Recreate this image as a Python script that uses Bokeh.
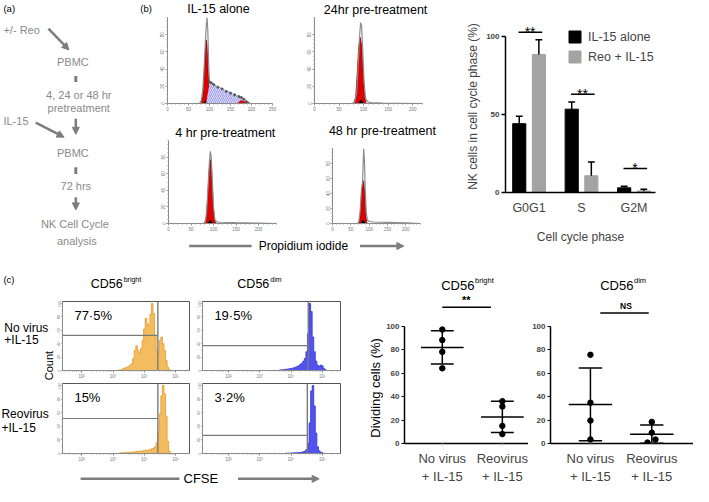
import math
import numpy as np
from bokeh.plotting import figure
from bokeh.layouts import row, column
from bokeh.models import Range1d, Arrow, NormalHead, FixedTicker, Legend, LegendItem
from bokeh.core.properties import value
from bokeh.embed import file_html
from bokeh.resources import INLINE

FONT = "Liberation Sans"
TXT_GRAY = "#8a8a8a"
ARR_GRAY = "#7d7d7d"

# ---------------- data ----------------
phases = ["G0G1", "S", "G2M"]
il15_alone = [44.0, 53.3, 3.0]
il15_alone_err = [4.8, 4.5, 1.0]
reo_il15 = [88.3, 10.7, 1.0]
reo_il15_err = [9.4, 8.8, 1.0]
sig_marks = ["**", "**", "*"]
sig_levels = [102.5, 62.8, 15.4]

pi_titles = ["IL-15 alone", "24hr pre-treatment", "4 hr pre-treatment", "48 hr pre-treatment"]
pi1_x = [0, 76, 80, 84, 87, 90, 92, 94, 96, 98, 100, 104, 110, 120, 130, 140, 150, 160, 170, 176, 182, 188, 192, 196, 250]
pi1_total = [0, 0, 3, 15, 40, 70, 88, 100, 85, 45, 25, 24, 22, 19, 17, 14, 12, 10, 8, 7, 5, 2, 0.5, 0, 0]
pi1_g1_x = [80, 84, 87, 90, 92, 94, 97, 100, 103]
pi1_g1 = [0, 8, 30, 60, 74, 68, 35, 8, 0]
pi1_s_x = [92, 100, 120, 140, 160, 175, 185, 192]
pi1_s = [0, 23, 19.5, 15.5, 11.5, 6.6, 3, 0]
pi1_g2_x = [166, 170, 174, 178, 182, 186, 190]
pi1_g2 = [0, 2, 3.5, 3.6, 3, 1.5, 0]

pi2_x = [0, 78, 82, 86, 89, 92, 94, 96, 98, 101, 104, 108, 115, 140, 180, 220]
pi2_total = [0, 0, 2, 12, 45, 80, 94, 90, 65, 25, 6, 2, 1, 0.5, 0.3, 0]
pi2_g1_x = [80, 84, 87, 90, 93, 96, 99, 102, 105]
pi2_g1 = [0, 8, 35, 65, 77, 68, 35, 8, 0]

pi3_x = [0, 78, 82, 85, 88, 91, 93, 95, 97, 100, 103, 107, 115, 150, 200, 240]
pi3_total = [0, 0, 2, 15, 45, 75, 87, 80, 55, 20, 5, 2, 1.5, 1, 0.5, 0]
pi3_g1_x = [80, 84, 87, 90, 93, 96, 99, 102, 105]
pi3_g1 = [0, 8, 30, 62, 77, 62, 25, 5, 0]

pi4_x = [0, 68, 72, 76, 79, 82, 85, 87, 89, 92, 95, 99, 110, 150, 200, 240]
pi4_total = [0, 0, 3, 20, 45, 55, 100, 85, 50, 15, 5, 3, 2, 1.5, 1, 0]
pi4_g1_x = [72, 76, 79, 82, 85, 88, 91, 94]
pi4_g1 = [0, 12, 38, 55, 57, 40, 10, 0]

cfse_bins_bright = np.round(np.arange(3.20, 4.851, 0.05), 2)
cfse_novirus_bright = [1, 1, 2, 3, 4, 5, 6, 8, 10, 18, 30, 37, 30, 26, 33, 45, 62, 78, 70, 66,
                       84, 100, 85, 52, 30, 26, 45, 50, 40, 30, 15, 5, 1, 0]
cfse_reo_bright = [0.5, 1, 1, 1, 1.5, 1, 2, 1.5, 2, 2.5, 2, 3, 3, 3.5, 3, 4, 4, 5, 4.5, 5,
                   6, 7, 8, 10, 16, 32, 58, 85, 100, 88, 55, 18, 3, 0]
cfse_bins_dim_nv = np.round(np.arange(3.60, 5.151, 0.05), 2)
cfse_novirus_dim = [0.5, 0.5, 1, 1, 1.5, 2, 2, 2.5, 3, 3.5, 4, 5, 6, 7, 9, 11, 14, 18, 28, 55,
                    100, 88, 50, 28, 14, 8, 6, 8, 7, 3, 1, 0]
cfse_bins_dim_reo = np.round(np.arange(3.80, 5.051, 0.05), 2)
cfse_reo_dim = [0.3, 0.3, 0.5, 0.5, 0.5, 0.8, 1, 1, 1.2, 1.5, 1.5, 2, 2.5, 3.5, 6, 15, 45, 92, 100, 70,
                30, 10, 4, 2, 1, 0]
cfse_gates = [4.43, 4.55, 4.43, 4.52]
cfse_marker_level = [0.51, 0.36, 0.50, 0.26]
cfse_pct = ["77·5%", "19·5%", "15%", "3·2%"]

dot_groups = ["No virus\n+ IL-15", "Reovirus\n+ IL-15"]
bright_novirus = [97, 88, 78, 64]
bright_reo = [36, 31.5, 15, 8]
dim_novirus = [75.5, 34.7, 19.5, 3.4]
dim_reo = [18.4, 9.2, 0.8, 3.4]
dim_reo_jitter = [0, 0, -0.07, 0.06]


def unalign(p):
    if "frame_align" in p.properties():
        p.frame_align = False
    return p


def base(w, h, xr, yr, **kw):
    p = figure(width=w, height=h, title=None, x_range=Range1d(*xr), y_range=Range1d(*yr),
               output_backend="svg", toolbar_location=None, **kw)
    for g in p.grid:
        g.visible = False
    p.outline_line_color = None
    return unalign(p)


def bare(w, h, xr, yr):
    return base(w, h, xr, yr, x_axis_location=None, y_axis_location=None, min_border=0)


def txt(p, x, y, t, size, color="black", align="center", baseline="middle", style="normal", angle=0.0):
    p.text(x=[x], y=[y], text=[t], text_font=value(FONT), text_font_size=size, text_color=color,
           text_align=align, text_baseline=baseline, text_font_style=style, angle=angle)


def arrow(p, x0, y0, x1, y1, w=2.5):
    p.add_layout(Arrow(end=NormalHead(size=7, fill_color=ARR_GRAY, line_color=ARR_GRAY),
                       x_start=x0, y_start=y0, x_end=x1, y_end=y1,
                       line_color=ARR_GRAY, line_width=w))


def small_axes(p, xt, xminor, yt, yminor, labels=None):
    xa, ya = p.xaxis[0], p.yaxis[0]
    for ax in (xa, ya):
        ax.axis_line_color = "#8a8a8a"
        ax.major_tick_line_color = "#8a8a8a"
        ax.minor_tick_line_color = "#a0a0a0"
        ax.major_tick_in = 0
        ax.major_tick_out = 2
        ax.minor_tick_in = 0
        ax.minor_tick_out = 1
        ax.major_label_text_font_size = "4.5px"
        ax.major_label_text_color = "#777777"
        ax.major_label_standoff = 1
    xa.ticker = FixedTicker(ticks=xt, minor_ticks=xminor)
    ya.ticker = FixedTicker(ticks=yt, minor_ticks=yminor)
    ya.major_label_orientation = "vertical"
    if labels:
        xa.major_label_overrides = labels


# ---------------- (a) flow diagram (+ "(b)" tag) ----------------
pa = bare(156, 254, (0, 159.5), (262, 0))
txt(pa, 3, 8, "(a)", "9.5px", align="left")
txt(pa, 143, 8, "(b)", "9.5px", align="left")
txt(pa, 3, 30, "+/- Reo", "11px", TXT_GRAY, align="left")
txt(pa, 74, 63, "PBMC", "11px", TXT_GRAY)
txt(pa, 80, 97, "4, 24 or 48 hr", "11px", TXT_GRAY)
txt(pa, 80, 111, "pretreatment", "11px", TXT_GRAY)
txt(pa, 3, 124, "IL-15", "11px", TXT_GRAY, align="left")
txt(pa, 74, 157, "PBMC", "11px", TXT_GRAY)
txt(pa, 77, 191, "72 hrs", "11px", TXT_GRAY)
txt(pa, 76, 231, "NK Cell Cycle", "11px", TXT_GRAY)
txt(pa, 78, 248, "analysis", "11px", TXT_GRAY)
arrow(pa, 49, 29, 70, 51)
arrow(pa, 77, 122, 77, 138)
arrow(pa, 36, 126, 65, 141)
arrow(pa, 77, 203, 77, 216)
pa.segment(x0=[77, 77], y0=[78, 172], x1=[77, 77], y1=[84, 179], line_color=ARR_GRAY, line_width=3)


# ---------------- (b) PI histograms ----------------
def pi_fig(w, h, lb, rb, tb, bb, xmax, xs, total, g1x, g1, peak_x):
    p = base(w, h, (0, xmax), (0, 100),
             min_border_left=lb, min_border_right=rb, min_border_top=tb, min_border_bottom=bb)
    xt = [t for t in [0, 50, 100, 150, 200, 250] if t <= xmax]
    small_axes(p, xt, list(range(0, xmax + 1, 10)), [0, 20, 40, 60, 80], list(range(0, 101, 5)))
    p.varea(x=g1x, y1=0, y2=g1, fill_color="#e00000")
    p.line(g1x, g1, line_color="#8a0000", line_width=0.8)
    p.line(xs, total, line_color="#8c8c8c", line_width=1.2)
    p.scatter([peak_x], [1.5], marker="triangle", size=4, color="black")
    return p


# title strips (pixel coordinates inside strip, x in reference coordinates)
t1 = bare(303, 17, (159.5, 470), (17, 0))
txt(t1, 223, 8.5, pi_titles[0], "12.5px")
txt(t1, 384, 9, pi_titles[1], "12.5px")
t2 = bare(303, 22, (159.5, 470), (22, 0))
txt(t2, 230, 14, pi_titles[2], "12.5px")
txt(t2, 391, 12.5, pi_titles[3], "12.5px")

h1 = pi_fig(137, 101, 11, 21, 0, 15, 250, pi1_x, pi1_total, pi1_g1_x, pi1_g1, 93)
h1.varea(x=pi1_s_x, y1=0, y2=pi1_s, fill_color="#d6d6f6", hatch_pattern="/",
         hatch_color="#6b6be0", hatch_scale=4, hatch_weight=0.5)
h1.varea(x=pi1_g2_x, y1=0, y2=pi1_g2, fill_color="#e00000")
h1.scatter(pi1_x[10:23], pi1_total[10:23], size=2, color="#555555")
h2 = pi_fig(166, 101, 21, 37, 0, 15, 220, pi2_x, pi2_total, pi2_g1_x, pi2_g1, 95)
h3 = pi_fig(137, 97, 12, 17, 0, 14, 240, pi3_x, pi3_total, pi3_g1_x, pi3_g1, 93)
h4 = pi_fig(166, 97, 39, 39, 8, 14, 240, pi4_x, pi4_total, pi4_g1_x, pi4_g1, 84)

fb = bare(303, 17, (159.5, 470), (0, 1))
txt(fb, 310, 0.5, "Propidium iodide", "12px")
fb.segment(x0=[193], y0=[0.5], x1=[257], y1=[0.5], line_color=ARR_GRAY, line_width=2.5)
arrow(fb, 368, 0.5, 413, 0.5)

# ---------------- (b) bar chart ----------------
xs3 = np.arange(len(phases))
pb = base(234, 254, (-0.449, 2.41), (0, 110),
          min_border_left=46, min_border_right=38, min_border_top=20, min_border_bottom=62)
off = 0.187
r1 = pb.vbar(x=xs3 - off, top=il15_alone, width=0.25, fill_color="black", line_color="black")
r2 = pb.vbar(x=xs3 + off, top=reo_il15, width=0.25, fill_color="#a3a3a3", line_color="#a3a3a3")
for o, m, e in ((-off, il15_alone, il15_alone_err), (off, reo_il15, reo_il15_err)):
    m = np.array(m)
    e = np.array(e)
    pb.segment(x0=xs3 + o, y0=m, x1=xs3 + o, y1=m + e, line_color="black", line_width=1.5)
    pb.segment(x0=xs3 + o - 0.065, y0=m + e, x1=xs3 + o + 0.065, y1=m + e, line_color="black", line_width=1.5)
pb.segment(x0=xs3 - 0.2, y0=sig_levels, x1=xs3 + 0.25, y1=sig_levels, line_color="black", line_width=1.5)
pb.text(x=xs3 + 0.02, y=np.array(sig_levels) + 0.3, text=sig_marks, text_font=value(FONT),
        text_font_size="14px", text_align="center", text_baseline="alphabetic")
ya = pb.yaxis[0]
ya.ticker = FixedTicker(ticks=[0, 50, 100], minor_ticks=[])
ya.bounds = (0, 100)
xa = pb.xaxis[0]
xa.ticker = FixedTicker(ticks=list(xs3), minor_ticks=[])
xa.major_label_overrides = {int(i): ph for i, ph in zip(xs3, phases)}
for ax in (xa, ya):
    ax.axis_line_color = "black"
    ax.axis_line_width = 1.5
    ax.major_tick_line_width = 1.5
    ax.major_tick_in = 0
    ax.axis_label_text_font = FONT
    ax.axis_label_text_font_style = "normal"
    ax.axis_label_text_font_size = "12px"
    ax.major_label_text_font = FONT
ya.major_tick_out = 4
ya.major_label_text_font_size = "8px"
ya.major_label_text_font_style = "bold"
ya.major_label_standoff = 2
ya.axis_label = "NK cells in cell cycle phase (%)"
ya.axis_label_standoff = 3
xa.major_tick_out = 0
xa.major_label_text_font_size = "12.5px"
xa.major_label_standoff = 8
xa.axis_label = "Cell cycle phase"
xa.axis_label_standoff = 12
legend = Legend(items=[LegendItem(label="IL-15 alone", renderers=[r1]),
                       LegendItem(label="Reo + IL-15", renderers=[r2])],
                location=(62, 128), glyph_width=15, glyph_height=15, label_height=15,
                spacing=5, padding=0, margin=0, border_line_color=None, background_fill_alpha=0,
                label_text_font=FONT, label_text_font_size="12.5px", label_standoff=6)
pb.add_layout(legend)

# ---------------- (c) CFSE histograms ----------------
hc = bare(347, 46, (0, 355), (310, 262))
txt(hc, 3, 288, "(c)", "9.5px", align="left")
txt(hc, 125, 293, "CD56", "12.5px", align="right")
txt(hc, 126, 288, "bright", "7px", align="left")
txt(hc, 275, 293, "CD56", "12.5px", align="right")
txt(hc, 276, 288, "dim", "7px", align="left")

lc = bare(54, 165, (0, 57), (480, 310))
txt(lc, 4, 338, "No virus", "12px", align="left")
txt(lc, 4, 351, "+IL-15", "12px", align="left")
txt(lc, 1, 427, "Reovirus", "12px", align="left")
txt(lc, 1, 441, "+IL-15", "12px", align="left")
txt(lc, 51, 377, "Count", "11px", angle=math.pi / 2)

LOG_MINOR = [math.log10(k * 10 ** d) for d in range(1, 6) for k in range(2, 10)]


def flow_fig(w, h, lb, rb, tb, bb, xr, bins, counts, fill, edge, gate, level, pct):
    p = base(w, h, xr, (0, 103),
             min_border_left=lb, min_border_right=rb, min_border_top=tb, min_border_bottom=bb)
    p.outline_line_color = "#555555"
    small_axes(p, [2, 3, 4, 5], [m for m in LOG_MINOR if xr[0] < m < xr[1]],
               [0, 20, 40, 60, 80, 100], list(range(0, 101, 10)),
               labels={2: "10²", 3: "10³", 4: "10⁴", 5: "10⁵"})
    p.yaxis[0].major_label_text_font_size = "4px"
    p.yaxis[0].major_tick_out = 1
    b = np.asarray(bins)
    p.varea_step(x=b, y1=0, y2=counts, step_mode="center", fill_color=fill)
    p.step(b, counts, mode="center", line_color=edge, line_width=0.8)
    p.segment(x0=[gate], y0=[0], x1=[gate], y1=[103], line_color="#7a7a7a", line_width=1.4)
    p.segment(x0=[xr[0]], y0=[level * 103], x1=[gate], y1=[level * 103], line_color="#7a7a7a", line_width=1.2)
    p.text(x=[xr[0] + 0.38], y=[82], text=[pct], text_font=value(FONT), text_font_size="13px",
           text_align="left", text_baseline="middle")
    return p


ORANGE, ORANGE_E = "#f3bc5e", "#e5992a"
BLUE, BLUE_E = "#5252ee", "#3333d6"
fTL = flow_fig(140, 82, 8, 5, 1, 12, (1.385, 5.44), cfse_bins_bright, cfse_novirus_bright,
               ORANGE, ORANGE_E, cfse_gates[0], cfse_marker_level[0], cfse_pct[0])
fTR = flow_fig(153, 82, 7, 7, 1, 12, (1.17, 5.58), cfse_bins_dim_nv, cfse_novirus_dim,
               BLUE, BLUE_E, cfse_gates[1], cfse_marker_level[1], cfse_pct[1])
fBL = flow_fig(140, 83, 8, 5, 1, 12, (1.385, 5.44), cfse_bins_bright, cfse_reo_bright,
               ORANGE, ORANGE_E, cfse_gates[2], cfse_marker_level[2], cfse_pct[2])
fBR = flow_fig(153, 83, 7, 7, 1, 12, (1.17, 5.58), cfse_bins_dim_reo, cfse_reo_dim,
               BLUE, BLUE_E, cfse_gates[3], cfse_marker_level[3], cfse_pct[3])

fc = bare(347, 21, (0, 355), (502, 480))
txt(fc, 205, 494, "CFSE", "13px")
fc.segment(x0=[82], y0=[494], x1=[183], y1=[494], line_color=ARR_GRAY, line_width=2.5)
arrow(fc, 243, 494, 326, 494)


# ---------------- (c) dot plots ----------------
def dot_fig(w, lb, xr, groups_vals, jitters, t_x, sup, sig_text, sig_x, sig_size, line_x, line_y, sig_y):
    p = base(w, 232, xr, (0, 146.4),
             min_border_left=lb, min_border_right=0, min_border_top=17, min_border_bottom=38)
    for i, (vals, jit) in enumerate(zip(groups_vals, jitters)):
        vals = np.array(vals, dtype=float)
        m = vals.mean()
        sd = vals.std(ddof=1)
        p.segment(x0=[i - 0.355], y0=[m], x1=[i + 0.355], y1=[m], line_color="black", line_width=1.5)
        p.segment(x0=[i], y0=[m - sd], x1=[i], y1=[m + sd], line_color="black", line_width=1.5)
        p.segment(x0=[i - 0.19, i - 0.19], y0=[m - sd, m + sd], x1=[i + 0.19, i + 0.19], y1=[m - sd, m + sd],
                  line_color="black", line_width=1.5)
        p.scatter(x=i + np.array(jit), y=vals, size=5.5, color="black")
    p.text(x=[t_x], y=[134.4], text=["CD56"], text_font=value(FONT), text_font_size="13px",
           text_align="right", text_baseline="middle")
    p.text(x=[t_x + 0.01], y=[138.8], text=[sup], text_font=value(FONT), text_font_size="7.5px",
           text_align="left", text_baseline="middle")
    p.segment(x0=[line_x[0]], y0=[line_y], x1=[line_x[1]], y1=[line_y], line_color="black", line_width=1.5)
    p.text(x=[sig_x], y=[sig_y], text=[sig_text], text_font=value(FONT), text_font_size=sig_size,
           text_align="center", text_baseline="middle", text_font_style="bold")
    ya = p.yaxis[0]
    xa = p.xaxis[0]
    ya.ticker = FixedTicker(ticks=[0, 20, 40, 60, 80, 100], minor_ticks=[])
    ya.bounds = (0, 100)
    xa.ticker = FixedTicker(ticks=[0, 1], minor_ticks=[])
    xa.major_label_overrides = {0: dot_groups[0], 1: dot_groups[1]}
    for ax in (xa, ya):
        ax.axis_line_color = "black"
        ax.axis_line_width = 1.5
        ax.major_tick_line_width = 1.2
        ax.major_tick_in = 0
        ax.major_label_text_font = FONT
    ya.major_tick_out = 3
    ya.major_label_text_font_size = "8px"
    ya.major_label_text_font_style = "bold"
    ya.major_label_standoff = 2
    xa.major_tick_out = 2
    xa.major_tick_line_color = "#bbbbbb"
    xa.major_label_text_font_size = "13px"
    xa.major_label_standoff = 5
    return p


dl = bare(36, 232, (0, 1), (502, 262))
txt(dl, 0.78, 400, "Dividing cells (%)", "13px", angle=math.pi / 2)
d1 = dot_fig(145, 20, (-0.629, 1.435), [bright_novirus, bright_reo], [[0, 0, 0, 0], [0, 0, 0, 0]],
             0.535, "bright", "**", 0.40, "11px", (0.0, 0.81), 116, 122)
d2 = dot_fig(165, 22, (-0.651, 1.68), [dim_novirus, dim_reo], [[0, 0, 0, 0], dim_reo_jitter],
             0.70, "dim", "NS", 0.58, "8.5px", (0.16, 0.95), 111, 117)

# ---------------- layout ----------------
panel_b = column(t1, row(h1, h2), t2, row(h3, h4), fb)
top = row(pa, panel_b, pb)
panel_c = column(hc, row(lc, column(row(fTL, fTR), row(fBL, fBR))), fc)
bottom = row(panel_c, dl, d1, d2)
layout = column(top, bottom)

open("out.html", "w").write(file_html(layout, INLINE))
